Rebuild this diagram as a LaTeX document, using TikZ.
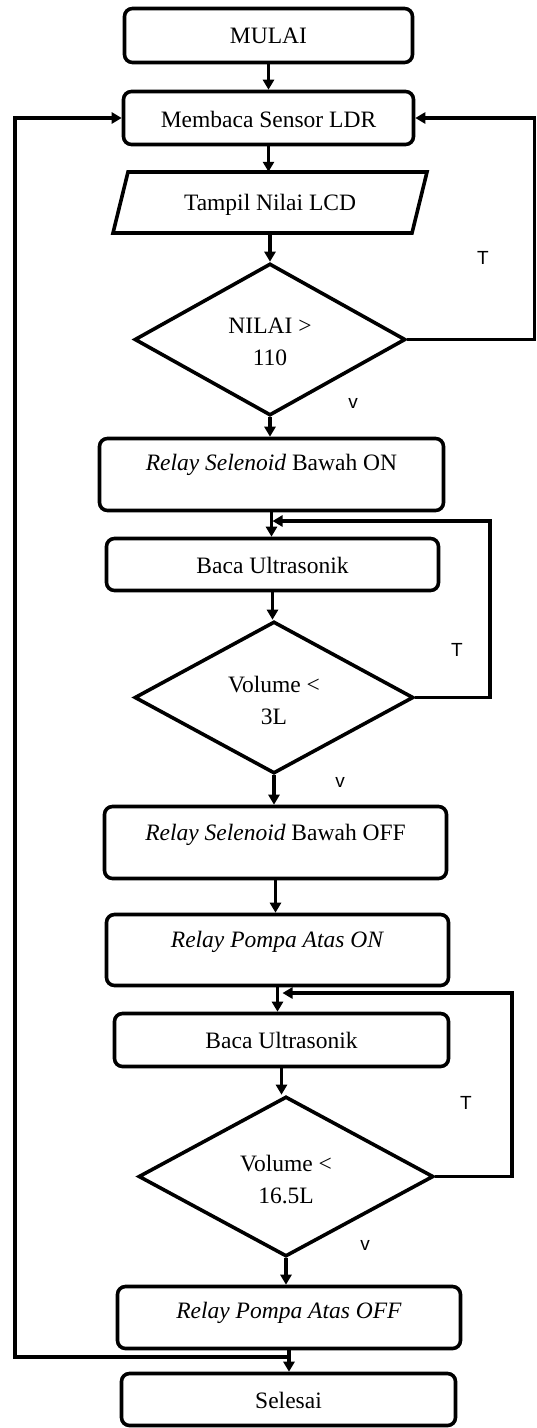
\documentclass[tikz,border=0pt]{standalone}
\usepackage{fontspec}
\setmainfont{Liberation Serif}
\newfontfamily\sansf{Liberation Sans}
\usetikzlibrary{shapes.geometric,arrows.meta,calc}
\tikzset{
  box/.style={draw, line width=3.6pt, rounded corners=8pt, inner sep=0pt},
  dec/.style={draw, diamond, line width=3.6pt, inner sep=0pt},
  txt/.style={font=\fontsize{23.5}{32}\selectfont, inner sep=0pt, align=center},
  yn/.style={font=\sansf\fontsize{19}{22}\selectfont, inner sep=0pt},
  arr/.style={line width=3.4pt, -{Triangle[length=10pt,width=11pt]}},
  ln/.style={line width=3.4pt}
}
\begin{document}
\begin{tikzpicture}[x=1pt,y=-1pt]
\useasboundingbox (0,0) rectangle (537,1428);
\fill[white] (0,0) rectangle (537,1428);
% nodes
\node[box, minimum width=288pt, minimum height=54pt] (mulai) at (268.5,35.5) {};
\node[txt] (mulaiT) at (268.5,36) {MULAI};
\node[box, minimum width=290pt, minimum height=53pt] (baca) at (268.5,118) {};
\node[txt] (bacaT) at (268.5,119) {Membaca Sensor LDR};
\draw[line width=3.6pt, line join=miter] (128,172) -- (427,172) -- (412,233) -- (113,233) -- cycle;
\node[inner sep=0pt, minimum width=280pt, minimum height=61pt] (lcd) at (270,202.5) {};
\node[txt] (lcdT) at (270,205) {Tampil Nilai LCD};
\node[dec, minimum width=271pt, minimum height=152pt] (d1) at (270,339.5) {};
\node[txt] (d1T) at (270,342) {NILAI >\\110};
\node[box, minimum width=344pt, minimum height=72pt] (on) at (271.5,474.5) {};
\node[txt] (onT) at (271.5,465) {\textit{Relay Selenoid} Bawah ON};
\node[box, minimum width=332pt, minimum height=52pt] (us1) at (272.5,564.5) {};
\node[txt] (us1T) at (272.5,565) {Baca Ultrasonik};
\node[dec, minimum width=279pt, minimum height=152pt] (d2) at (274,697.5) {};
\node[txt] (d2T) at (274,700) {Volume <\\3L};
\node[box, minimum width=342pt, minimum height=72pt] (off) at (275.5,842.5) {};
\node[txt] (offT) at (275.5,835) {\textit{Relay Selenoid} Bawah OFF};
\node[box, minimum width=342pt, minimum height=71pt] (pon) at (277.5,950) {};
\node[txt] (ponT) at (277.5,942) {\textit{Relay Pompa Atas ON}};
\node[box, minimum width=334pt, minimum height=53pt] (us2) at (281.5,1040) {};
\node[txt] (us2T) at (281.5,1040) {Baca Ultrasonik};
\node[dec, minimum width=295pt, minimum height=160pt] (d3) at (286,1176.5) {};
\node[txt] (d3T) at (286,1179) {Volume <\\16.5L};
\node[box, minimum width=343pt, minimum height=62pt] (poff) at (289,1317.5) {};
\node[txt] (poffT) at (289,1313) {\textit{Relay Pompa Atas OFF}};
\node[box, minimum width=334pt, minimum height=52pt] (sel) at (288.5,1399.5) {};
\node[txt] (selT) at (288.5,1400) {Selesai};
% labels
\node[yn] (t1) at (483,258) {T};
\node[yn] (v1) at (353,403) {v};
\node[yn] (t2) at (457,650) {T};
\node[yn] (v2) at (340,782) {v};
\node[yn] (t3) at (466,1103) {T};
\node[yn] (v3) at (365,1245) {v};
% coordinates
\coordinate (r1) at (534.5,339.5);
\coordinate (m1) at (272.5,521);
\coordinate (r2) at (490,697.5);
\coordinate (m2) at (282.5,993);
\coordinate (r3) at (512,1176.5);
\coordinate (j3) at (289,1357);
\coordinate (l3) at (15,1357);
% connectors
\draw[arr] (mulai.south) -- (mulai.south |- baca.north);
\draw[arr] (baca.south) -- (baca.south |- lcd.north);
\draw[arr] (lcd.south) -- (lcd.south |- d1.north);
\draw[arr] (d1.south) -- (d1.south |- on.north);
\draw[arr] (d1.east) -- (r1) |- (baca.east);
\draw[arr] (on.south) -- (on.south |- us1.north);
\draw[arr] (us1.south) -- (us1.south |- d2.north);
\draw[arr] (d2.east) -- (r2) |- (m1);
\draw[arr] (d2.south) -- (d2.south |- off.north);
\draw[arr] (off.south) -- (off.south |- pon.north);
\draw[arr] (pon.south) -- (pon.south |- us2.north);
\draw[arr] (us2.south) -- (us2.south |- d3.north);
\draw[arr] (d3.east) -- (r3) |- (m2);
\draw[arr] (d3.south) -- (d3.south |- poff.north);
\draw[arr] (poff.south) -- (poff.south |- sel.north);
\draw[arr] (j3) -- (l3) |- (baca.west);
\end{tikzpicture}
\end{document}
